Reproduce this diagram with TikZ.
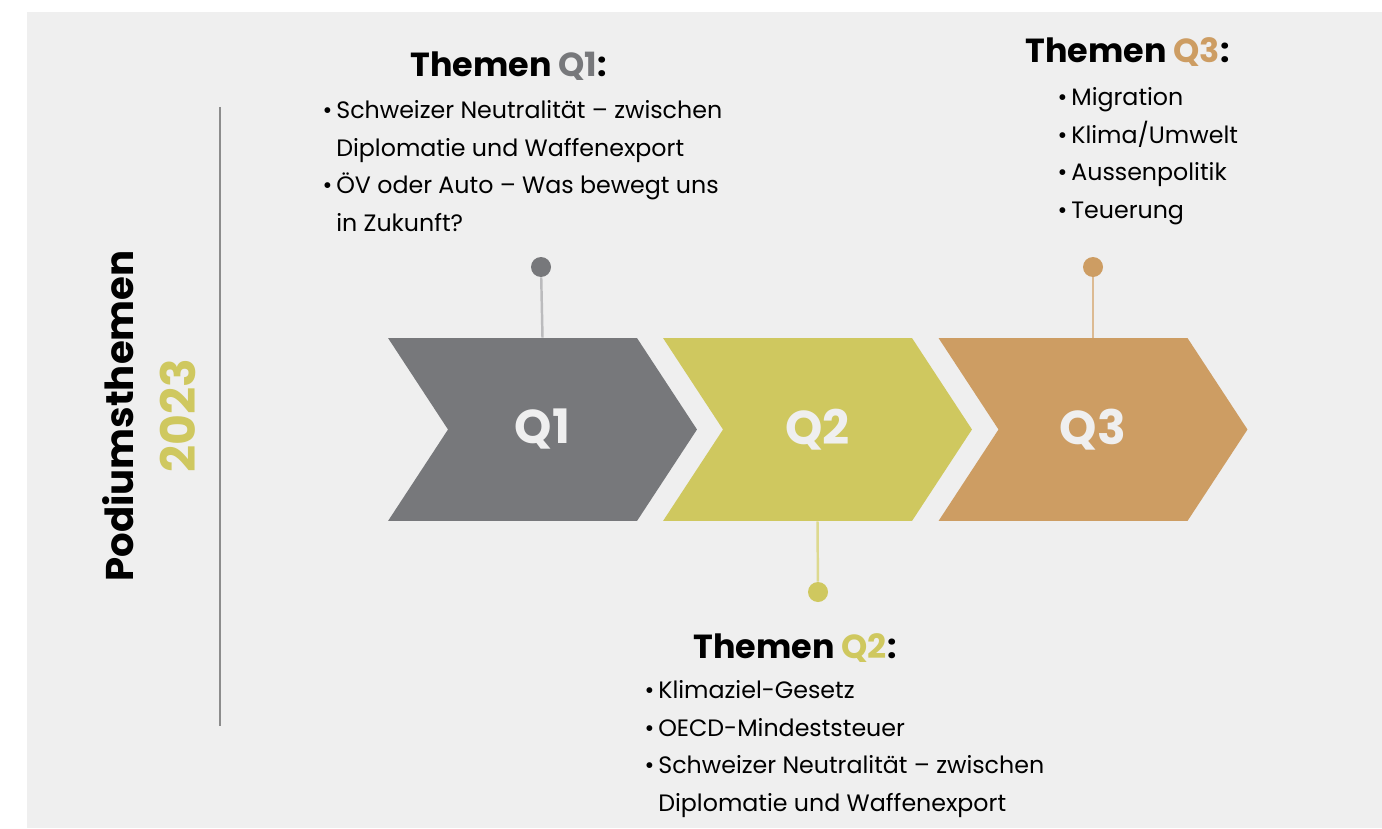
\documentclass[tikz,border=0pt]{standalone}
\usepackage{fontspec}
\setmainfont{Poppins}
\usetikzlibrary{shapes.symbols}
\definecolor{fond}{HTML}{EFEFEF}
\definecolor{gris}{HTML}{77787B}
\definecolor{olive}{HTML}{CFC85F}
\definecolor{ocre}{HTML}{CD9D63}
\definecolor{trait}{HTML}{8C8C8C}
\begin{document}
\begin{tikzpicture}[x=0.02cm, y=-0.02cm,
  fleche/.style={signal, signal to=east, signal from=west, signal pointer angle=113.5,
    minimum width=6.18cm, minimum height=3.66cm, inner sep=0pt, text=fond,
    font=\fontsize{27}{27}\selectfont\bfseries},
  point/.style={circle, inner sep=0pt, minimum size=0.4cm},
  tige/.style={line width=1.4pt},
  titre/.style={font=\fontsize{19}{19}\selectfont\bfseries, anchor=base west, inner sep=0pt},
  liste/.style={font=\fontsize{13.5}{21.5}\selectfont, align=left, anchor=north west, inner sep=0pt}]
\useasboundingbox (0,0) rectangle (1382,828);
% Fond
\fill [fond] (27,12) rectangle (1382,828);
% Titre
\node [rotate=90, font=\fontsize{22}{22}\selectfont\bfseries] (titre) at (118,416) {Podiumsthemen};
\node [rotate=90, font=\fontsize{27}{27}\selectfont\bfseries, text=olive] (annee) at (178,416) {2023};
\coordinate (haut) at (220,107);
\coordinate (bas) at (220,726);
\draw [line width=1.7pt, trait] (haut) -- (bas);
% Fleches
\node [fleche, fill=gris] (q1) at (542.5,429.5) {Q1};
\node [fleche, fill=olive] (q2) at (817.5,429.5) {Q2};
\node [fleche, fill=ocre] (q3) at (1093,429.5) {Q3};
% Points
\node [point, fill=gris] (p1) at (541,267) {};
\node [point, fill=olive] (p2) at (818,592) {};
\node [point, fill=ocre] (p3) at (1093,267) {};
\draw [tige, color=gris!50] (p1) -- (q1.north);
\draw [tige, color=olive!70] (q2.south) -- (p2);
\draw [tige, color=ocre!70] (p3) -- (q3.north);
% Themen
\node [titre] (t1) at (410,77) {Themen {\color{gris}Q1}:};
\node [liste] (l1) at (336,100) {\llap{•\,}Schweizer Neutralität – zwischen\\Diplomatie und Waffenexport\\\llap{•\,}ÖV oder Auto – Was bewegt uns\\in Zukunft?};
\node [titre] (t2) at (693,658) {Themen {\color{olive}Q2}:};
\node [liste] (l2) at (658,680) {\llap{•\,}Klimaziel-Gesetz\\\llap{•\,}OECD-Mindeststeuer\\\llap{•\,}Schweizer Neutralität – zwischen\\Diplomatie und Waffenexport};
\node [titre] (t3) at (1025,63) {Themen {\color{ocre}Q3}:};
\node [liste] (l3) at (1071,87) {\llap{•\,}Migration\\\llap{•\,}Klima/Umwelt\\\llap{•\,}Aussenpolitik\\\llap{•\,}Teuerung};
\end{tikzpicture}
\end{document}
